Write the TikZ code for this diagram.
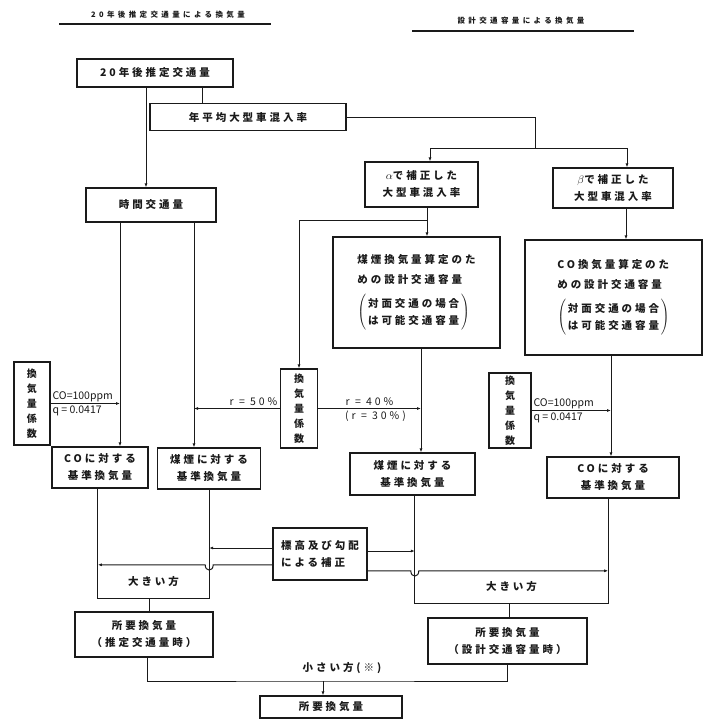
\documentclass[tikz,border=0pt]{standalone}
\usepackage{fontspec}
\setmainfont{Noto Sans CJK JP}
\newfontfamily\boxjp[LetterSpace=28]{Noto Sans CJK JP}
\newfontfamily\headjp[LetterSpace=45]{Noto Sans CJK JP}
\usepackage{tikz}
\usetikzlibrary{arrows.meta, calc}
\definecolor{scanink}{HTML}{1A1A1A}

\begin{document}
\begin{tikzpicture}[
  x=1pt, y=-1pt,
  box/.style={rectangle, draw=scanink, line width=1.2pt, inner sep=0pt, align=center, text=scanink, font=\boxjp\bfseries\fontsize{10.5}{17}\selectfont},
  plainbox/.style={rectangle, inner sep=0pt, align=center, text=scanink, font=\boxjp\bfseries\fontsize{10.5}{17}\selectfont},
  coefbox/.style={box, font=\bfseries\fontsize{10}{15}\selectfont},
  param/.style={inner sep=1.5pt, text=scanink, font=\fontsize{10.5}{12}\selectfont},
  rlabel/.style={inner sep=2pt, text=scanink, font=\boxjp\fontsize{10.5}{12}\selectfont},
  link/.style={draw=scanink, line width=1pt},
  arrow/.style={link, -{Latex[length=4pt, width=3pt]}},
  headrule/.style={draw=scanink, line width=1.8pt},
]
\useasboundingbox (0,0) rectangle (711,726);

\node[text=scanink, font=\headjp\bfseries\fontsize{7.5}{9}\selectfont] (headL) at (168,15) {20年後推定交通量による換気量};
\node[text=scanink, font=\headjp\bfseries\fontsize{7.5}{9}\selectfont] (headR) at (521,21) {設計交通容量による換気量};
\draw[headrule] (59,24) -- (271,24);
\draw[headrule] (412,31) -- (634,31);

\node[box, minimum width=156, minimum height=28] (future) at (155,73) {20年後推定交通量};
\node[box, minimum width=196, minimum height=27] (heavy) at (248,117) {年平均大型車混入率};
\node[box, minimum width=130, minimum height=34] (hourly) at (151,205) {時間交通量};
\node[box, minimum width=113, minimum height=45] (alpha) at (421.5,184.5) {$\alpha$で補正した\\大型車混入率};
\node[box, minimum width=120, minimum height=40] (beta) at (613,188) {$\beta$で補正した\\大型車混入率};
\node[box, align=left, minimum width=167, minimum height=111] (sootcap) at (416.5,292.5)
  {煤煙換気量算定のた\\[3pt]めの設計交通容量\\[9pt]$\left(\,\begin{tabular}{@{}l@{}}対面交通の場合\\は可能交通容量\end{tabular}\,\right)$};
\node[box, align=left, minimum width=177, minimum height=115] (cocap) at (613.5,297.5)
  {CO換気量算定のた\\[3pt]めの設計交通容量\\[9pt]$\left(\,\begin{tabular}{@{}l@{}}対面交通の場合\\は可能交通容量\end{tabular}\,\right)$};

\node[coefbox, minimum width=36, minimum height=83] (coefL) at (32,403.5) {換\\気\\量\\係\\数};
\node[coefbox, minimum width=37, minimum height=79] (coefM) at (299,408.5) {換\\気\\量\\係\\数};
\node[coefbox, minimum width=42, minimum height=75] (coefR) at (510,410.5) {換\\気\\量\\係\\数};

\node[box, minimum width=96, minimum height=41] (baseCOL) at (100,467.5) {COに対する\\基準換気量};
\node[box, minimum width=103, minimum height=41] (baseSootL) at (209,468.5) {煤煙に対する\\基準換気量};
\node[box, minimum width=125, minimum height=42] (baseSootR) at (412.5,474) {煤煙に対する\\基準換気量};
\node[box, minimum width=132, minimum height=41] (baseCOR) at (613,477.5) {COに対する\\基準換気量};

\node[box, align=left, minimum width=94, minimum height=52] (grade) at (320,554) {標高及び勾配\\による補正};
\node[plainbox, minimum width=111, minimum height=33] (largerL) at (153.5,581.5) {大きい方};
\node[plainbox, minimum width=193, minimum height=32] (largerR) at (511.5,587) {大きい方};
\node[box, minimum width=138, minimum height=45] (needL) at (144,634.5) {所要換気量\\（推定交通量時）};
\node[box, minimum width=159, minimum height=46] (needR) at (507.5,641) {所要換気量\\（設計交通容量時）};
\node[plainbox] (lesser) at (342,668) {小さい方(※)};
\node[box, minimum width=142, minimum height=22] (need) at (331,707) {所要換気量};

\coordinate (split) at (535,148);
\coordinate (outCO) at ([xshift=-31pt]hourly.south);
\coordinate (outSoot) at ([xshift=43pt]hourly.south);
\coordinate (alphaOut) at ([xshift=5.5pt]alpha.south);
\coordinate (sootOut) at ([xshift=4.5pt]sootcap.south);
\coordinate (coOut) at ([xshift=-2.5pt]cocap.south);
\coordinate (join) at (323,681);

\draw[arrow] ([xshift=-9pt]future.south) -- ([xshift=-9pt]future.south |- hourly.north);
\draw[link] ([xshift=47pt]future.south) -- ([xshift=47pt]future.south |- heavy.north);
\draw[link] (heavy.east) -| (split);
\draw[arrow] (split) -| ([xshift=8.5pt]alpha.north);
\draw[arrow] (split) -| ([xshift=14pt]beta.north);
\draw[arrow] (alphaOut) -- (alphaOut |- sootcap.north);
\draw[arrow] ([yshift=-13pt]alphaOut) -| (coefM.north);
\draw[arrow] ([xshift=13pt]beta.south) -- ([xshift=13pt]beta.south |- cocap.north);

\draw[arrow] (outCO) -- (outCO |- baseCOL.north);
\draw[arrow] (outSoot) -- (outSoot |- baseSootL.north);
\draw[arrow] (sootOut) -- (sootOut |- baseSootR.north);
\draw[arrow] (coOut) -- (coOut |- baseCOR.north);

\draw[arrow] (coefL.east) -- (coefL.east -| outCO)
  node[param, pos=0, anchor=south west] (ppmL) {CO=100ppm}
  node[param, pos=0, anchor=north west] (qL) {q = 0.0417};
\draw[arrow] (coefM.west) -- (coefM.west -| outSoot)
  node[rlabel, pos=0, anchor=south east] (rL) {r = 50\%};
\draw[arrow] (coefM.east) -- (coefM.east -| sootOut)
  node[rlabel, midway, above] (rM) {r = 40\%}
  node[rlabel, midway, below, xshift=6pt] (rMalt) {(r = 30\%)};
\draw[arrow] (coefR.east) -- (coefR.east -| coOut)
  node[param, pos=0, anchor=south west] (ppmR) {CO=100ppm}
  node[param, pos=0, anchor=north west] (qR) {q = 0.0417};

\draw[link] (largerL.north west |- baseCOL.south) -- (largerL.south west) -- (largerL.south east) -- (largerL.north east |- baseSootL.south);
\draw[link] (largerR.north west |- baseSootR.south) -- (largerR.south west) -- (largerR.south east) -- (largerR.north east |- baseCOR.south);

\draw[arrow] ([yshift=6pt]grade.west) -- ([yshift=6pt]grade.west -| largerL.east);
\draw[arrow] (grade.west |- largerL.north) -- ($(largerL.north east)+(4,0)$)
  .. controls ($(largerL.north east)+(4,7)$) and ($(largerL.north east)+(-4,7)$) .. ($(largerL.north east)+(-4,0)$)
  -- (largerL.north west);
\draw[arrow] ([yshift=3pt]grade.east) -- ([yshift=3pt]grade.east -| largerR.west);
\draw[arrow] (grade.east |- largerR.north) -- ($(largerR.north west)+(-4,0)$)
  .. controls ($(largerR.north west)+(-4,7)$) and ($(largerR.north west)+(4,7)$) .. ($(largerR.north west)+(4,0)$)
  -- (largerR.north east);

\draw[link] ([xshift=-4pt]largerL.south) -- ([xshift=-4pt]largerL.south |- needL.north);
\draw[link] ([xshift=-2pt]largerR.south) -- ([xshift=-2pt]largerR.south |- needR.north);
\draw[link] ([xshift=3pt]needL.south) |- (join) -| (needR.south);
\draw[arrow] (join) -- (join |- need.north);
\end{tikzpicture}
\end{document}
